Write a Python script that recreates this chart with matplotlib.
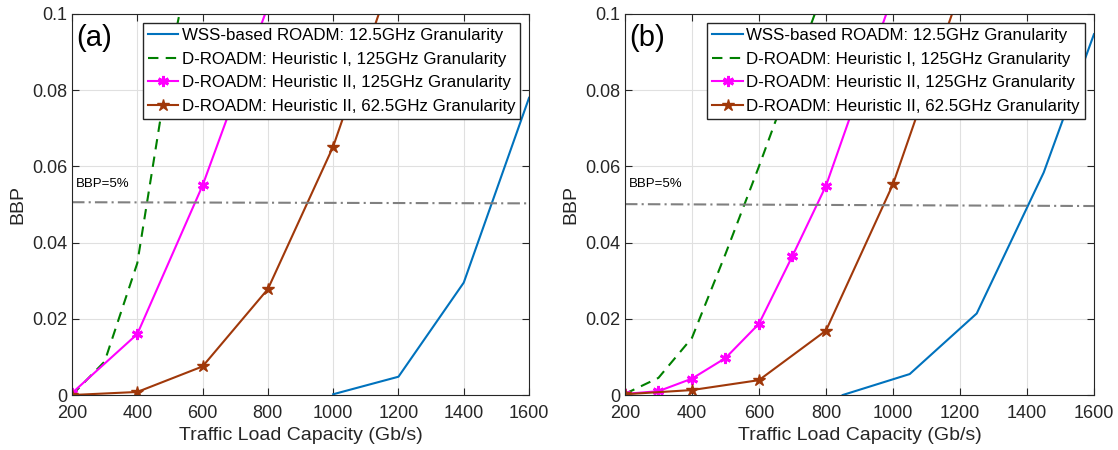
import numpy as np
import matplotlib.pyplot as plt

plt.rcParams['font.family'] = ['Liberation Sans', 'DejaVu Sans']

# ---- data, panel (a) ----
a_wss_x = [1000, 1200, 1400, 1600]
a_wss_y = [0.0002, 0.0048, 0.0295, 0.078]
a_h1_x = [200, 300, 400, 500, 600]
a_h1_y = [0.0, 0.0088, 0.0346, 0.088, 0.129]
a_h2_x = [200, 400, 600, 800]
a_h2_y = [0.0005, 0.016, 0.055, 0.102]
a_h2b_x = [200, 400, 600, 800, 1000, 1200]
a_h2b_y = [0.0, 0.0008, 0.0075, 0.0278, 0.0652, 0.115]
a_ref_x = [200, 1600]
a_ref_y = [0.0506, 0.0503]

# ---- data, panel (b) ----
b_wss_x = [850, 1050, 1250, 1450, 1600]
b_wss_y = [0.0, 0.0055, 0.0214, 0.0584, 0.0947]
b_h1_x = [200, 300, 400, 500, 600, 700, 800]
b_h1_y = [0.0003, 0.0045, 0.015, 0.037, 0.06, 0.084, 0.108]
b_h2_x = [200, 300, 400, 500, 600, 700, 800, 900, 1000]
b_h2_y = [0.0003, 0.001, 0.0043, 0.0097, 0.0187, 0.0365, 0.0549, 0.080, 0.105]
b_h2b_x = [200, 400, 600, 800, 1000, 1200]
b_h2b_y = [0.0002, 0.0013, 0.0039, 0.0169, 0.0553, 0.106]
b_ref_x = [200, 1600]
b_ref_y = [0.0501, 0.0496]

labels = ['WSS-based ROADM: 12.5GHz Granularity',
          'D-ROADM: Heuristic I, 125GHz Granularity',
          'D-ROADM: Heuristic II, 125GHz Granularity',
          'D-ROADM: Heuristic II, 62.5GHz Granularity']
xticks = [200, 400, 600, 800, 1000, 1200, 1400, 1600]
yticks = [0, 0.02, 0.04, 0.06, 0.08, 0.1]
yticklabels = ['0', '0.02', '0.04', '0.06', '0.08', '0.1']

c_blue = '#0072BD'
c_green = '#008000'
c_mag = '#FF00FF'
c_brown = '#A0380A'

fig = plt.figure(figsize=(11.18, 4.5), dpi=100)
ax_a = fig.add_axes([0.0644, 0.1222, 0.4088, 0.8467])
ax_b = fig.add_axes([0.559, 0.1222, 0.4195, 0.8467])

panels = [
    (ax_a, '(a)', a_wss_x, a_wss_y, a_h1_x, a_h1_y, a_h2_x, a_h2_y, a_h2b_x, a_h2b_y, a_ref_x, a_ref_y),
    (ax_b, '(b)', b_wss_x, b_wss_y, b_h1_x, b_h1_y, b_h2_x, b_h2_y, b_h2b_x, b_h2b_y, b_ref_x, b_ref_y),
]

for ax, tag, wx, wy, h1x, h1y, h2x, h2y, h3x, h3y, rx, ry in panels:
    ax.plot(wx, wy, color=c_blue, lw=1.5, label=labels[0])
    ax.plot(h1x, h1y, color=c_green, lw=1.5, ls=(0, (5, 3.5)), label=labels[1])
    ax.plot(h2x, h2y, color=c_mag, lw=1.5, marker=(6, 2, 0), ms=8, mew=2, label=labels[2])
    ax.plot(h3x, h3y, color=c_brown, lw=1.5, marker='*', ms=9, label=labels[3])
    ax.plot(rx, ry, color='#808080', lw=1.5, ls=(0, (6, 2, 1, 2)))
    ax.text(212, 0.0545, 'BBP=5%', fontsize=9.5)
    ax.text(0.01, 0.975, tag, transform=ax.transAxes, fontsize=21, va='top', ha='left')

    ax.set_xlim(200, 1600)
    ax.set_ylim(0, 0.1)
    ax.set_xticks(xticks)
    ax.set_yticks(yticks)
    ax.set_yticklabels(yticklabels)
    ax.tick_params(direction='in', top=True, right=True, labelsize=13, length=5,
                   color='#262626', labelcolor='#262626')
    ax.tick_params(axis='x', pad=7)
    ax.grid(True, color='#e0e0e0', lw=0.8)
    ax.set_axisbelow(True)
    for s in ax.spines.values():
        s.set_color('#262626')
    ax.set_xlabel('Traffic Load Capacity (Gb/s)', fontsize=14, color='#262626', labelpad=4)
    ax.set_ylabel('BBP', fontsize=14, color='#262626', labelpad=4)
    leg = ax.legend(loc='upper right', bbox_to_anchor=(0.981, 0.976), fontsize=12.2, handlelength=1.8,
                    handletextpad=0.2, borderpad=0.3, labelspacing=0.5, borderaxespad=0.0,
                    fancybox=False, framealpha=1, edgecolor='#262626')
    leg.get_frame().set_linewidth(1.0)

fig.savefig('out.png', dpi=100)
